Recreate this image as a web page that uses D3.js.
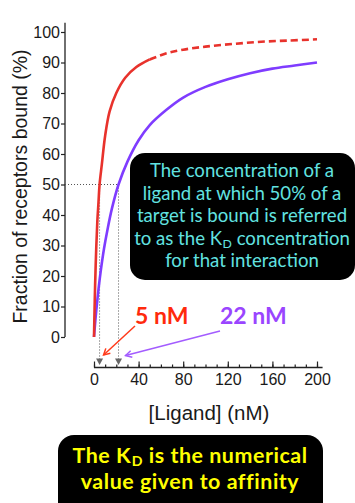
<!DOCTYPE html>
<html><head><meta charset="utf-8">
<script src="https://cdn.jsdelivr.net/npm/d3@7"></script>
<style>
html,body{margin:0;padding:0;background:#fff;}
svg{display:block;}
</style></head>
<body>
<svg id="c" width="355" height="503"></svg>
<script>
// ---- data ----
const redLigand   = [0, 0.5, 1, 2, 3, 4, 5, 7, 10, 14, 20, 28, 38, 50, 65, 80, 100, 125, 150, 175, 200];
const redBound    = [0, 9, 17, 29, 38, 44, 50, 56.5, 66, 74, 80, 85, 88.5, 91, 93, 94.2, 95.2, 96.1, 96.8, 97.2, 97.6];
const redSolidUntil = 50;
const purpleLigand = [0, 1, 2, 4, 6, 9, 12, 16, 22, 30, 40, 50, 65, 80, 100, 120, 140, 160, 180, 200];
const purpleBound  = [0, 4.5, 8.5, 15.5, 21.5, 29, 35, 42, 50, 57.5, 64.5, 69.5, 74.5, 78.5, 82, 84.5, 86.5, 88, 89, 90];
const kdValues = [5, 22];
const kdLabels = ["5 nM", "22 nM"];
const xTicks = [0, 40, 80, 120, 160, 200];
const xMinorTicks = d3.range(0, 201, 10);
const yTicks = [0, 10, 20, 30, 40, 50, 60, 70, 80, 90, 100];
const boxLines = ["The concentration of a", "ligand at which 50% of a", "target is bound is referred", ["to as the K", "D", " concentration"], "for that interaction"];
const bottomLines = [["The K", "D", " is the numerical"], "value given to affinity"];

const svg = d3.select("#c");
const x = d3.scaleLinear().domain([0, 200]).range([94, 317]);
const y = d3.scaleLinear().domain([0, 100]).range([337, 32]);
const axisFont = "'Liberation Sans', Arial, sans-serif";
const calFont = "Lato, 'Open Sans', sans-serif";
const RED = "#e8322c", PURPLE = "#7f3cff";

// y axis
const yAxis = svg.append("g").attr("transform", `translate(${x(0) - 29},0)`)
  .call(d3.axisLeft(y).tickValues(yTicks).tickSize(4).tickPadding(1));
yAxis.select(".domain").remove();
yAxis.append("line").attr("x1", 0).attr("x2", 0).attr("y1", y(103)).attr("y2", y(0)).attr("stroke", "#222").attr("stroke-width", 1.3);
yAxis.selectAll(".tick line").attr("stroke", "#222").attr("stroke-width", 1.2);
yAxis.selectAll(".tick text").attr("font-family", axisFont).attr("font-size", 16).attr("fill", "#1a1a1a");

// x axis
const xAxisY = 367.5;
const xg = svg.append("g").attr("transform", `translate(0,${xAxisY})`);
xg.append("line").attr("x1", x(0)).attr("x2", x(205)).attr("stroke", "#222").attr("stroke-width", 1.3);
xg.call(d3.axisTop(x).tickValues(xMinorTicks).tickSize(3).tickFormat(""))
  .call(g => g.select(".domain").remove());
xg.selectAll(".tick line").attr("stroke", "#222").attr("stroke-width", 1.2);
const xMaj = svg.append("g").attr("transform", `translate(0,${xAxisY})`)
  .call(d3.axisBottom(x).tickValues(xTicks).tickSize(0).tickPadding(6));
xMaj.select(".domain").remove();
xMaj.selectAll(".tick line").remove();
xMaj.selectAll(".tick").append("line").attr("y1", 0).attr("y2", -6).attr("stroke", "#222").attr("stroke-width", 1.2);
xMaj.selectAll(".tick text").attr("font-family", axisFont).attr("font-size", 16).attr("fill", "#1a1a1a");

// axis titles
svg.append("text").attr("transform", `translate(27,${(y(100) + y(0)) / 2 + 2}) rotate(-90)`)
  .attr("text-anchor", "middle").attr("font-family", axisFont).attr("font-size", 19.5).attr("fill", "#1a1a1a")
  .text("Fraction of receptors bound (%)");
svg.append("text").attr("x", 209).attr("y", 420).attr("text-anchor", "middle")
  .attr("font-family", axisFont).attr("font-size", 20.5).attr("fill", "#1a1a1a").text("[Ligand] (nM)");

// dotted guide lines
const guide = svg.append("g").attr("stroke", "#555").attr("stroke-width", 1).attr("stroke-dasharray", "1,2").attr("fill", "none");
guide.append("line").attr("x1", x(0) - 29).attr("x2", x(kdValues[1])).attr("y1", y(50)).attr("y2", y(50));
kdValues.forEach(k => {
  guide.append("line").attr("x1", x(k)).attr("x2", x(k)).attr("y1", y(50)).attr("y2", xAxisY - 8);
  svg.append("path").attr("d", d3.line()([[x(k) - 3.5, xAxisY - 9], [x(k) + 3.5, xAxisY - 9], [x(k), xAxisY - 2.5]]) + "Z")
    .attr("fill", "#666");
});

// curves
const line = d3.line().x(d => x(d[0])).y(d => y(d[1])).curve(d3.curveCatmullRom.alpha(0.5));
const redPts = redLigand.map((v, i) => [v, redBound[i]]);
const purplePts = purpleLigand.map((v, i) => [v, purpleBound[i]]);
svg.append("path").attr("d", line(purplePts)).attr("fill", "none").attr("stroke", PURPLE).attr("stroke-width", 2.6);
svg.append("path").attr("d", line(redPts.filter(d => d[0] <= redSolidUntil))).attr("fill", "none").attr("stroke", RED).attr("stroke-width", 2.6);
svg.append("path").attr("d", line(redPts.filter(d => d[0] >= redSolidUntil))).attr("fill", "none").attr("stroke", RED).attr("stroke-width", 2.6).attr("stroke-dasharray", "7,4");

// Kd labels & arrows
const labelColors = ["#ff2a0c", "#9a45ff"];
const arrowColors = ["#ff3a1a", "#a35cff"];
const labelX = [135, 220];
const arrowStart = [[135, 326], [220, 331]];
const arrowEnd = [[x(kdValues[0]) + 4, 355], [x(kdValues[1]) + 7, 355.5]];
kdLabels.forEach((t, i) => {
  svg.append("text").attr("x", labelX[i]).attr("y", 324).attr("font-family", calFont).attr("font-weight", 700)
    .attr("font-size", 23).attr("fill", labelColors[i]).text(t);
  const [x1, y1] = arrowStart[i], [x2, y2] = arrowEnd[i];
  const ang = Math.atan2(y2 - y1, x2 - x1), L = 7, w = 0.5;
  svg.append("line").attr("x1", x1).attr("y1", y1).attr("x2", x2).attr("y2", y2).attr("stroke", arrowColors[i]).attr("stroke-width", 1.5);
  svg.append("path").attr("d", `M${x2 - L * Math.cos(ang - w)},${y2 - L * Math.sin(ang - w)}L${x2},${y2}L${x2 - L * Math.cos(ang + w)},${y2 - L * Math.sin(ang + w)}`)
    .attr("fill", "none").attr("stroke", arrowColors[i]).attr("stroke-width", 1.5);
});

// info boxes
function addLine(g, content, xx, yy, size, sub) {
  const t = g.append("text").attr("x", xx).attr("y", yy).attr("text-anchor", "middle");
  if (typeof content === "string") { t.text(content); return; }
  t.append("tspan").text(content[0]);
  t.append("tspan").attr("font-size", size * 0.66).attr("dx", 0.5).attr("dy", sub).text(content[1]);
  t.append("tspan").attr("dy", -sub).text(content[2]);
}
svg.append("rect").attr("x", 130).attr("y", 153).attr("width", 225).attr("height", 127).attr("rx", 15).attr("fill", "#000");
const box = svg.append("g").attr("font-family", calFont).attr("font-size", 18.6).attr("fill", "#62e3e0");
boxLines.forEach((l, i) => addLine(box, l, 242, 177 + i * 22.6, 18.6, 3));

svg.append("rect").attr("x", 58).attr("y", 435).attr("width", 265).attr("height", 90).attr("rx", 16).attr("fill", "#000");
const bot = svg.append("g").attr("font-family", calFont).attr("font-weight", 700).attr("font-size", 21.4)
  .attr("letter-spacing", 0.55).attr("fill", "#ffff00");
bottomLines.forEach((l, i) => addLine(bot, l, 190, 462.5 + i * 26, 21.4, 3));
</script>
</body></html>
